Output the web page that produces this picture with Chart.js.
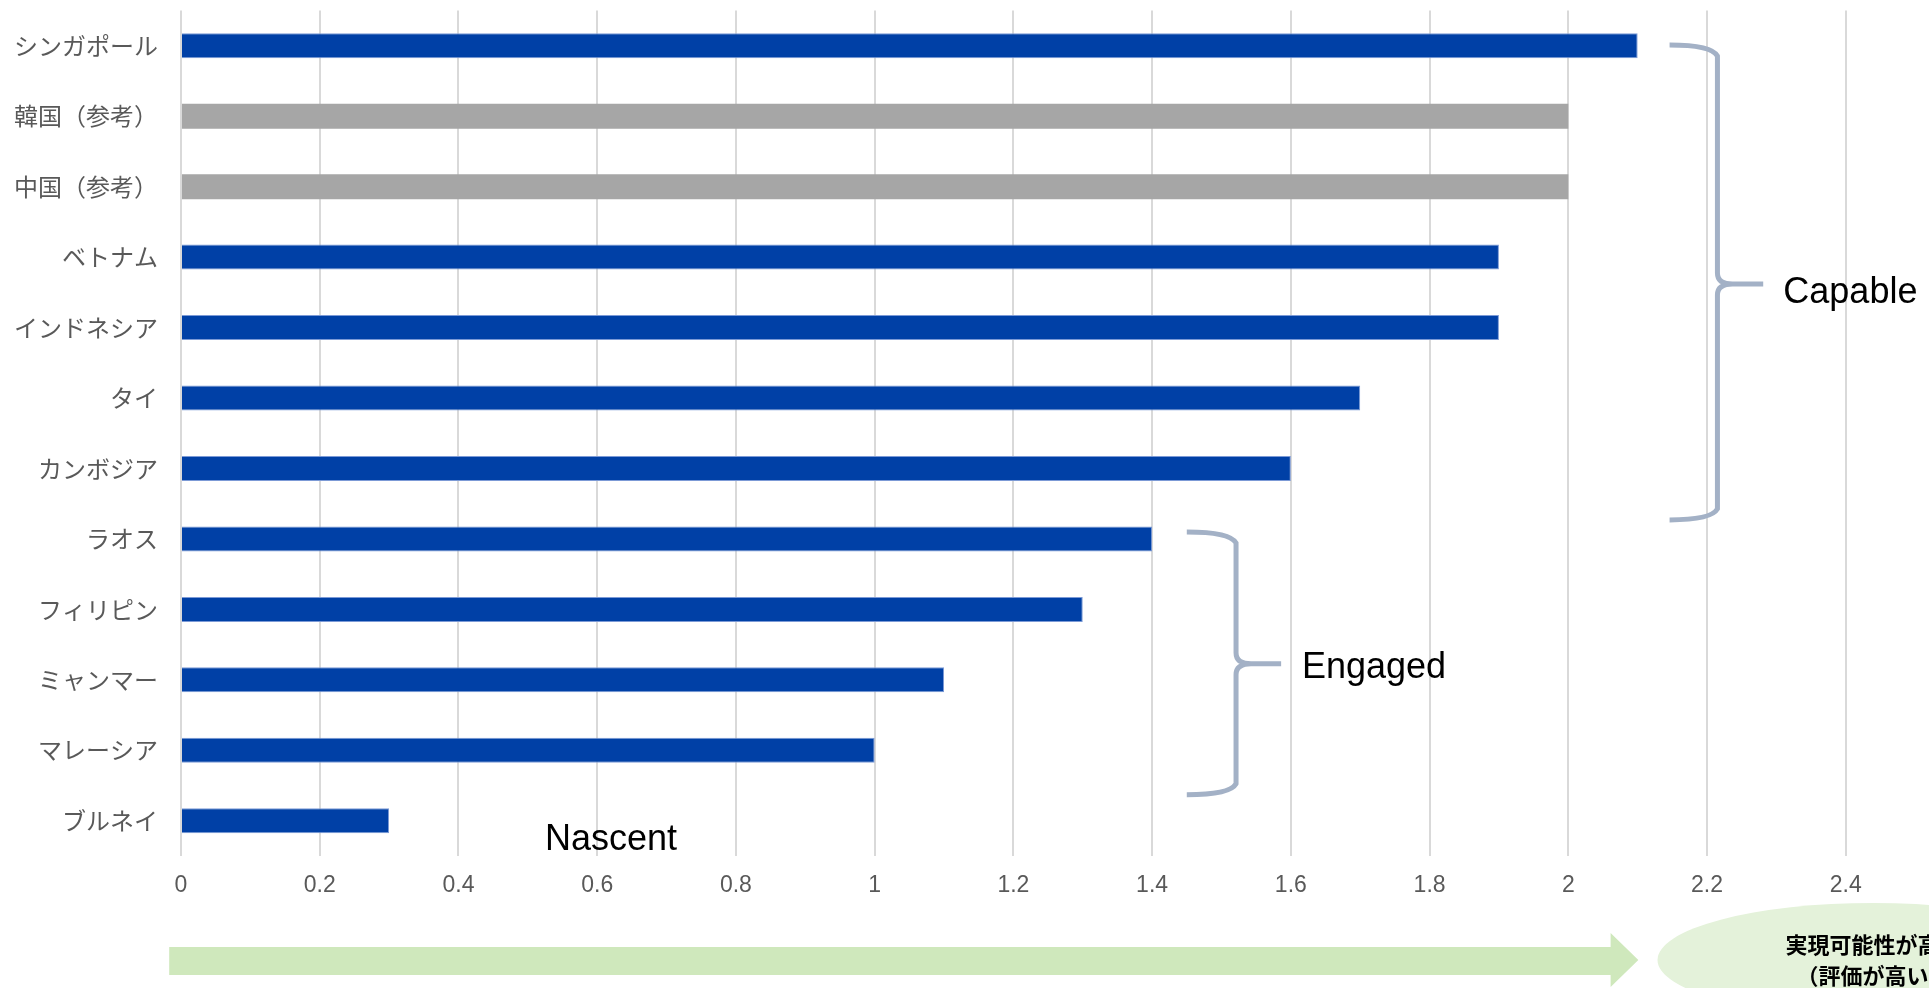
<!DOCTYPE html>
<html>
<head>
<meta charset="utf-8">
<script src="https://cdn.jsdelivr.net/npm/chart.js@4"></script>
<style>
html, body { margin: 0; padding: 0; background: #fff; overflow: hidden; }
#wrap { width: 1929px; height: 988px; position: relative; }
</style>
</head>
<body>
<div id="wrap"><canvas id="chart"></canvas></div>
<script>
// data
const countries = ["シンガポール", "韓国（参考）", "中国（参考）", "ベトナム", "インドネシア", "タイ",
    "カンボジア", "ラオス", "フィリピン", "ミャンマー", "マレーシア", "ブルネイ"];
const scores = [2.1, 2.0, 2.0, 1.9, 1.9, 1.7, 1.6, 1.4, 1.3, 1.1, 1.0, 0.3];
const xTicks = [0, 0.2, 0.4, 0.6, 0.8, 1, 1.2, 1.4, 1.6, 1.8, 2, 2.2, 2.4];
const groupNames = ["Capable", "Engaged", "Nascent"];
const noteLines = ["実現可能性が高い", "（評価が高い）"];

const BLUE = "#0040A6";
const GREY = "#A6A6A6";

function isReference(i) {
    return countries[i].indexOf("参考") !== -1;
}

function drawBrace(ctx, x0, xv, xt, yTop, yMid, yBot) {
    const r = 11;
    ctx.beginPath();
    ctx.moveTo(x0, yTop);
    ctx.quadraticCurveTo(xv - 6, yTop, xv, yTop + r);
    ctx.lineTo(xv, yMid - r);
    ctx.quadraticCurveTo(xv, yMid, xv + r + 4, yMid);
    ctx.lineTo(xt, yMid);
    ctx.moveTo(xv + r + 4, yMid);
    ctx.quadraticCurveTo(xv, yMid, xv, yMid + r);
    ctx.lineTo(xv, yBot - r);
    ctx.quadraticCurveTo(xv - 6, yBot, x0, yBot);
    ctx.stroke();
}

const annotations = {
    id: "annotations",
    afterDraw(chart) {
        const ctx = chart.ctx;
        const x = chart.scales.x;
        const y = chart.scales.y;
        const bottom = chart.chartArea.bottom;
        ctx.save();

        // braces
        ctx.strokeStyle = "#A3B1C6";
        ctx.lineWidth = 5;
        ctx.lineCap = "butt";
        drawBrace(ctx, x.getPixelForValue(2.146), x.getPixelForValue(2.215), x.getPixelForValue(2.281),
            y.getPixelForValue(-0.01), y.getPixelForValue(3.38), y.getPixelForValue(6.73));
        drawBrace(ctx, x.getPixelForValue(1.45), x.getPixelForValue(1.521), x.getPixelForValue(1.586),
            y.getPixelForValue(6.9), y.getPixelForValue(8.77), y.getPixelForValue(10.63));

        // group labels
        ctx.fillStyle = "#000";
        ctx.font = "36px 'Liberation Sans', Arial, sans-serif";
        ctx.textBaseline = "alphabetic";
        ctx.textAlign = "left";
        ctx.fillText(groupNames[0], x.getPixelForValue(2.31), y.getPixelForValue(3.65));
        ctx.fillText(groupNames[1], x.getPixelForValue(1.616), y.getPixelForValue(8.97));
        ctx.textAlign = "center";
        ctx.fillText(groupNames[2], x.getPixelForValue(0.62), y.getPixelForValue(11.42));

        // green arrow under the axis
        const ax0 = x.getPixelForValue(-0.017);
        const axh = x.getPixelForValue(2.061);
        const axt = x.getPixelForValue(2.101);
        ctx.fillStyle = "#CFE8BC";
        ctx.beginPath();
        ctx.moveTo(ax0, bottom + 91);
        ctx.lineTo(axh, bottom + 91);
        ctx.lineTo(axh, bottom + 77);
        ctx.lineTo(axt, bottom + 104);
        ctx.lineTo(axh, bottom + 131);
        ctx.lineTo(axh, bottom + 119);
        ctx.lineTo(ax0, bottom + 119);
        ctx.closePath();
        ctx.fill();

        // ellipse with note
        const ex = x.getPixelForValue(2.44);
        ctx.fillStyle = "#E4F2DA";
        ctx.beginPath();
        ctx.ellipse(ex, bottom + 104, 216, 57, 0, 0, Math.PI * 2);
        ctx.fill();
        ctx.fillStyle = "#000";
        ctx.font = "bold 22px 'Noto Sans CJK JP', sans-serif";
        ctx.textAlign = "center";
        ctx.textBaseline = "middle";
        ctx.fillText(noteLines[0], ex, bottom + 89);
        ctx.fillText(noteLines[1], ex, bottom + 120);

        ctx.restore();
    }
};

const chart = new Chart(document.getElementById("chart"), {
    type: "bar",
    data: {
        labels: countries,
        datasets: [{
            data: scores,
            backgroundColor: c => isReference(c.dataIndex) ? GREY : BLUE,
            borderColor: c => isReference(c.dataIndex) ? GREY : "#7C9AD6",
            borderWidth: c => isReference(c.dataIndex) ? 0 : 1,
            barPercentage: 0.355,
            categoryPercentage: 1
        }]
    },
    options: {
        indexAxis: "y",
        responsive: true,
        maintainAspectRatio: false,
        animation: false,
        layout: { padding: { top: 10.5, right: 0, bottom: 0, left: 0 } },
        plugins: {
            legend: { display: false },
            tooltip: { enabled: false }
        },
        scales: {
            x: {
                type: "linear",
                min: 0,
                max: 2.52,
                afterBuildTicks: s => { s.ticks = xTicks.map(v => ({ value: v })); },
                afterFit: s => { s.height = 132; s.paddingLeft = 0; s.paddingRight = 0; },
                grid: { color: "#D9D9D9", lineWidth: 2, drawTicks: false },
                border: { display: false },
                ticks: {
                    color: "#595959",
                    padding: 16,
                    font: { family: "'Liberation Sans', Arial, sans-serif", size: 23 },
                    callback: v => String(v)
                }
            },
            y: {
                afterFit: s => { s.width = 181; s.paddingTop = 0; s.paddingBottom = 0; },
                grid: { display: false, drawTicks: false },
                border: { display: false },
                ticks: {
                    color: "#595959",
                    padding: 23,
                    font: { family: "'Noto Sans CJK JP', sans-serif", size: 24 }
                }
            }
        }
    },
    plugins: [annotations]
});
</script>
</body>
</html>
